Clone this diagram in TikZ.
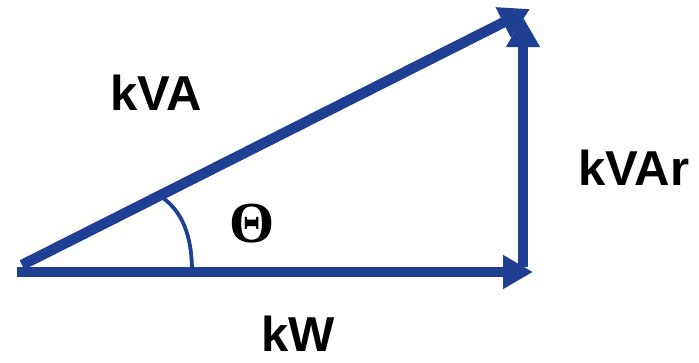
\documentclass[tikz,border=0pt]{standalone}
\usepackage{fontspec}
\newfontfamily\labfont{Liberation Sans}
\newfontfamily\thfont{Liberation Serif}
\usetikzlibrary{arrows.meta}
\definecolor{vecblue}{RGB}{31,64,146}
\tikzset{
  vec/.style={draw=vecblue, line width=10.5pt, -{Triangle[length=30pt,width=32pt]}},
  anglearc/.style={draw=vecblue, line width=3.8pt},
  lbl/.style={font=\labfont\fontsize{49}{49}\selectfont\bfseries, anchor=base, inner sep=0pt}
}
\begin{document}
\begin{tikzpicture}[x=1pt,y=-1pt]
\useasboundingbox (0,0) rectangle (699,362);
\coordinate (O) at (17,272);
\coordinate (D) at (22,265);
\coordinate (E) at (533,272);
\coordinate (V0) at (523,267);
\coordinate (T) at (523,17);
\coordinate (H) at (530,9);
\coordinate (A0) at (192,272);
\coordinate (A1) at (163,198);
\draw[vec] (O) -- (E);
\draw[vec] (V0) -- (T);
\draw[vec] (D) -- (H);
\draw[anglearc] (A0) .. controls (192,235) and (182,212) .. (A1);
\node[lbl] (kva) at (156,110) {kVA};
\node[lbl] (kvar) at (634,185) {kVAr};
\node[lbl] (kw) at (298,351) {kW};
\node[font=\thfont\fontsize{58}{58}\selectfont\bfseries, inner sep=0pt] (th) at (252.5,224) {Θ};
\end{tikzpicture}
\end{document}
